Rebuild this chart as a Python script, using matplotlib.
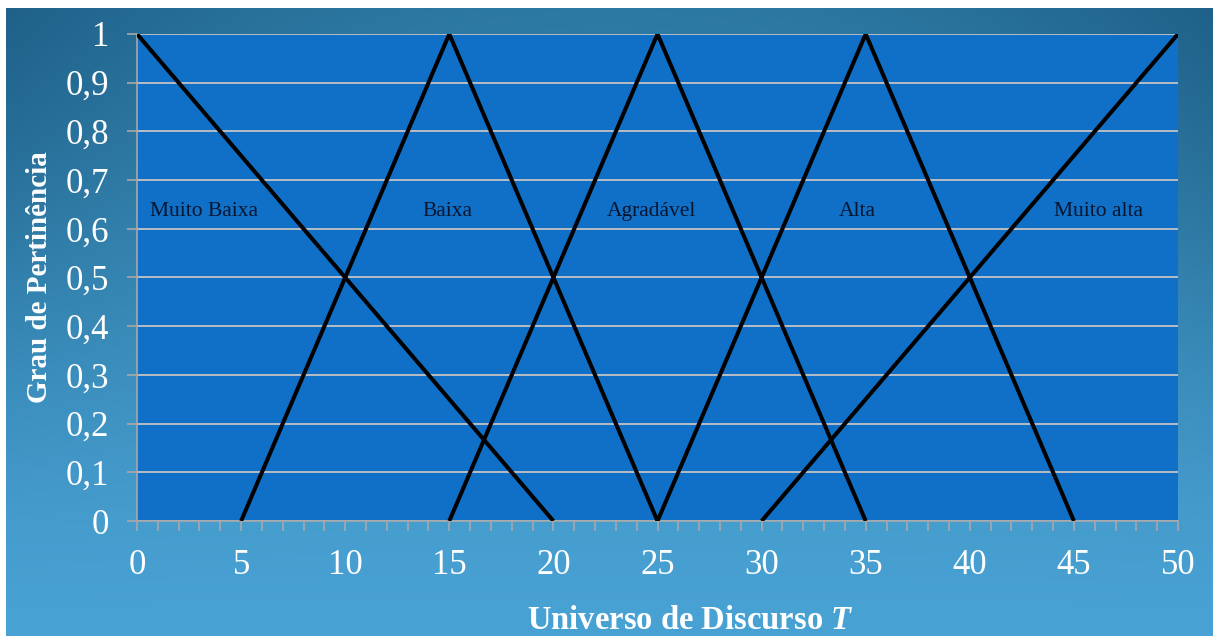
import numpy as np
import matplotlib
matplotlib.use('Agg')
from matplotlib import pyplot as plt
from matplotlib.colors import to_rgb
from matplotlib.ticker import MultipleLocator, FuncFormatter

plt.rcParams['font.family'] = ['Liberation Serif', 'DejaVu Serif']
plt.rcParams['mathtext.fontset'] = 'custom'
plt.rcParams['mathtext.bfit'] = 'Liberation Serif:italic:bold'
plt.rcParams['mathtext.it'] = 'Liberation Serif:italic'
plt.rcParams['mathtext.bf'] = 'Liberation Serif:bold'

# fuzzy sets over the universe T (vertices of each membership function)
muito_baixa_x = [0, 20]
muito_baixa_y = [1, 0]
baixa_x = [5, 15, 25]
baixa_y = [0, 1, 0]
agradavel_x = [15, 25, 35]
agradavel_y = [0, 1, 0]
alta_x = [25, 35, 45]
alta_y = [0, 1, 0]
muito_alta_x = [30, 50]
muito_alta_y = [0, 1]

set_names = ['Muito Baixa', 'Baixa', 'Agradável', 'Alta', 'Muito alta']
name_x = [3.2, 14.9, 24.7, 34.6, 46.2]
name_y = 0.635

fig = plt.figure(figsize=(12.13, 6.36), dpi=100)
fig.patch.set_facecolor('white')

# slide-like gradient behind the chart
bg = fig.add_axes([6 / 1213, 0, 1 - 6 / 1213, 628 / 636])
bg.set_axis_off()
h, w = 200, 400
yy, xx = np.mgrid[0:h, 0:w]
xn = xx / (w - 1)
yn = 1 - yy / (h - 1)
light = np.array(to_rgb('#49a2d4'))
top = np.array(to_rgb('#2c79a3'))
corner = np.array(to_rgb('#1f6189'))
tv = np.clip(yn, 0, 1) ** 1.3
col = light[None, None, :] * (1 - tv[..., None]) + top[None, None, :] * tv[..., None]
tc = np.clip((np.abs(xn - 0.5) * 2) ** 2 * yn ** 2, 0, 1)
col = col * (1 - tc[..., None]) + corner[None, None, :] * tc[..., None]
bg.imshow(col, aspect='auto', extent=[0, 1, 0, 1], interpolation='bilinear')

ax = fig.add_axes([137 / 1213, 115 / 636, 1041 / 1213, 487 / 636])
ax.set_facecolor('#106fc6')

for xs, ys in [(muito_baixa_x, muito_baixa_y), (baixa_x, baixa_y),
               (agradavel_x, agradavel_y), (alta_x, alta_y),
               (muito_alta_x, muito_alta_y)]:
    ax.plot(xs, ys, color='black', lw=2.9, solid_capstyle='butt', zorder=3)

for name, nx in zip(set_names, name_x):
    ax.text(nx, name_y, name, ha='center', va='center', fontsize=15.5,
            color='#081630', zorder=4)

ax.set_xlim(0, 50)
ax.set_ylim(0, 1)
ax.xaxis.set_major_locator(MultipleLocator(5))
ax.xaxis.set_minor_locator(MultipleLocator(1))
ax.yaxis.set_major_locator(MultipleLocator(0.1))
ax.yaxis.set_major_formatter(FuncFormatter(
    lambda v, p: '0' if abs(v) < 1e-9 else ('1' if abs(v - 1) < 1e-9 else f'{v:.1f}'.replace('.', ','))))

ax.grid(axis='y', color='#c4c4c4', lw=1.3)
ax.set_axisbelow(True)
for side in ['top', 'right']:
    ax.spines[side].set_visible(False)
for side in ['left', 'bottom']:
    ax.spines[side].set_color('#a8a8a8')
    ax.spines[side].set_linewidth(1.2)

ax.tick_params(axis='both', which='both', direction='out', color='#a8a8a8',
               width=1.2, labelcolor='white', labelsize=25)
ax.tick_params(axis='y', length=7, pad=13)
ax.tick_params(axis='x', which='major', length=7, pad=13)
ax.tick_params(axis='x', which='minor', length=7)

fig.text(40 / 1213, 1 - 277 / 636, 'Grau de Pertinência', color='white',
         fontsize=21, fontweight='bold', rotation=90, ha='center', va='center')
fig.text(0.569, 0.025, r'Universo de Discurso $\mathbfit{T}$', color='white',
         fontsize=23.5, fontweight='bold', ha='center', va='center')

fig.savefig('out.png', dpi=100)
